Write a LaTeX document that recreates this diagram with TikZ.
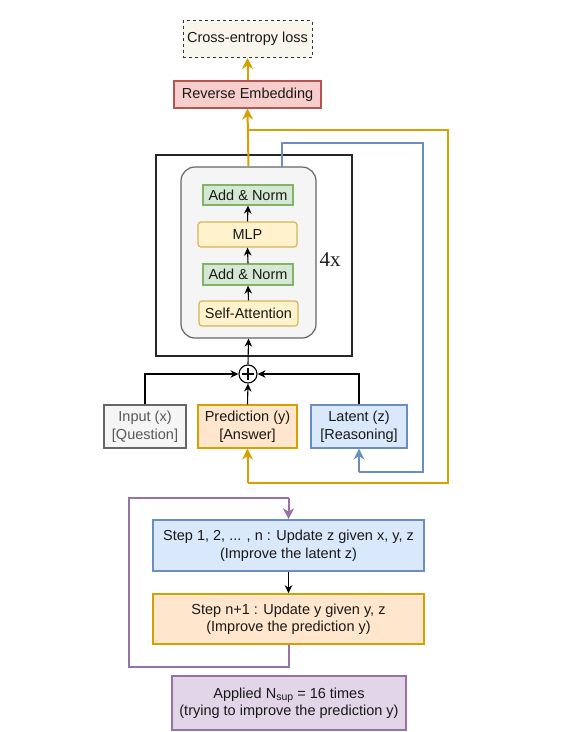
\documentclass[tikz,border=0pt]{standalone}
\usepackage{fontspec}
\setmainfont{Liberation Sans}
\newfontfamily\serifx{Liberation Serif}
\usetikzlibrary{arrows.meta}
\definecolor{gold}{RGB}{214,160,0}
\definecolor{bluel}{HTML}{6C8EBF}
\definecolor{bluef}{HTML}{DAE8FC}
\definecolor{orf}{HTML}{FFE6CC}
\definecolor{grf}{HTML}{D5E8D4}
\definecolor{grl}{HTML}{82B366}
\definecolor{yef}{HTML}{FFF2CC}
\definecolor{yel}{HTML}{D6B656}
\definecolor{redf}{HTML}{F8CECC}
\definecolor{redl}{HTML}{B85450}
\definecolor{purf}{HTML}{E1D5E7}
\definecolor{purl}{HTML}{9673A6}
\definecolor{crf}{HTML}{F9F7ED}
\definecolor{grayf}{HTML}{F5F5F5}
\definecolor{grayl}{HTML}{666666}
\tikzset{
  box/.style={draw, line width=1.2pt, inner sep=0pt, align=center, text=black!90},
  blk/.style={draw=black, line width=1.1pt, -{Stealth[length=8pt,width=7.5pt,inset=2.5pt]}},
  goldln/.style={draw=gold, line width=2pt},
  goldarr/.style={goldln, -{Stealth[length=11pt,width=11pt,inset=3.5pt]}},
  blueln/.style={draw=bluel, line width=2pt},
  bluearr/.style={blueln, -{Stealth[length=11pt,width=11pt,inset=3.5pt]}},
  purarr/.style={draw=purl, line width=2pt, -{Stealth[length=11pt,width=11pt,inset=3.5pt]}},
}
\begin{document}
\begin{tikzpicture}[x=1pt,y=-1pt,font=\fontsize{14.5}{17.5}\selectfont]
\useasboundingbox[fill=white] (0,0) rectangle (583,732);

% top
\node[box, dashed, draw=black!80, line width=1pt, fill=crf, minimum width=129pt, minimum height=37pt] (ce) at (247.5,39) {Cross-entropy loss};
\node[box, draw=redl, fill=redf, minimum width=147pt, minimum height=27pt] (re) at (247.5,94.5) {Reverse Embedding};

% transformer
\node[draw=black!85, line width=1.2pt, fill=white, minimum width=196pt, minimum height=201pt, inner sep=0pt] (outer) at (254,255.5) {};
\node[box, draw=grayl, fill=grayf, rounded corners=14pt, minimum width=135pt, minimum height=171pt] (inner) at (248.5,252.5) {};
\node[box, draw=grl, fill=grf, minimum width=90pt, minimum height=20pt] (an1) at (248,195) {Add \& Norm};
\node[box, draw=yel, fill=yef, rounded corners=3pt, minimum width=99pt, minimum height=25pt] (mlp) at (247.5,234.5) {MLP};
\node[box, draw=grl, fill=grf, minimum width=90pt, minimum height=21pt] (an2) at (248,274.5) {Add \& Norm};
\node[box, draw=yel, fill=yef, rounded corners=3pt, minimum width=99pt, minimum height=25pt] (sa) at (248.5,313.5) {Self-Attention};
\node[font=\serifx\fontsize{21}{24}\selectfont, text=black!88] (fx) at (330,260) {4x};

\draw[blk] (sa.north) -- (an2.south);
\draw[blk] (an2.north) -- (mlp.south);
\draw[blk] (mlp.north) -- (an1.south);

% plus
\node[draw=black, line width=1.1pt, circle, minimum size=18pt, inner sep=0pt, fill=white] (plus) at (248,374) {};
\draw[line width=1.3pt] ([yshift=-6pt]plus.center) -- ([yshift=6pt]plus.center) ([xshift=-6pt]plus.center) -- ([xshift=6pt]plus.center);

% inputs
\node[box, draw=grayl, fill=grayf, text=black!65, minimum width=82pt, minimum height=43pt] (inp) at (145,426.5) {Input (x)\\{}[Question]};
\node[box, draw=gold, fill=orf, minimum width=99pt, minimum height=43pt] (pred) at (247.5,426.5) {Prediction (y)\\{}[Answer]};
\node[box, draw=bluel, fill=bluef, minimum width=96pt, minimum height=43pt] (lat) at (359,426.5) {Latent (z)\\{}[Reasoning]};

\draw[blk] (inp.north) |- (plus.west);
\draw[blk] (lat.north) |- (plus.east);
\draw[blk] (pred.north) -- (plus.south);
\draw[blk] (plus.north) -- (inner.south);

% gold loop
\coordinate (g0) at (247.5,130);
\coordinate (g1) at (448,130);
\coordinate (g2) at (448,483);
\coordinate (g3) at (247.5,483);
\draw[goldarr] (inner.north) -- (re.south);
\draw[goldarr] (re.north) -- (ce.south);
\draw[goldln] (g0) -- (g1) -- (g2) -- (g3);
\draw[goldarr] (g3) -- (pred.south);

% blue loop
\coordinate (b0) at (282,167);
\coordinate (b1) at (282,143);
\coordinate (b2) at (423,143);
\coordinate (b3) at (423,472);
\coordinate (b4) at (359,472);
\draw[blueln] (b0) -- (b1) -- (b2) -- (b3) -- (b4);
\draw[bluearr] (b4) -- (lat.south);

% bottom steps
\node[box, line width=1.6pt, draw=bluel, fill=bluef, minimum width=271pt, minimum height=51pt] (s1) at (288.5,545.5) {Step 1, 2, ... , n : Update z given x, y, z\\(Improve the latent z)};
\node[box, line width=1.6pt, draw=gold, fill=orf, minimum width=271pt, minimum height=50pt] (s2) at (288.5,619) {Step n+1 : Update y given y, z\\(Improve the prediction y)};
\node[box, line width=1.6pt, draw=purl, fill=purf, minimum width=234pt, minimum height=54pt] (ap) at (289,703) {Applied N\raisebox{-0.35ex}{\fontsize{10.5}{11}\selectfont sup} = 16 times\\(trying to improve the prediction y)};

\draw[blk] (s1.south) -- (s2.north);

\coordinate (p1) at (288.5,667);
\coordinate (p2) at (129,667);
\coordinate (p3) at (129,498);
\coordinate (p4) at (288.5,498);
\draw[draw=purl, line width=2pt] (s2.south) -- (p1) -- (p2) -- (p3) -- (p4);
\draw[purarr] (p4) -- (s1.north);
\end{tikzpicture}
\end{document}
